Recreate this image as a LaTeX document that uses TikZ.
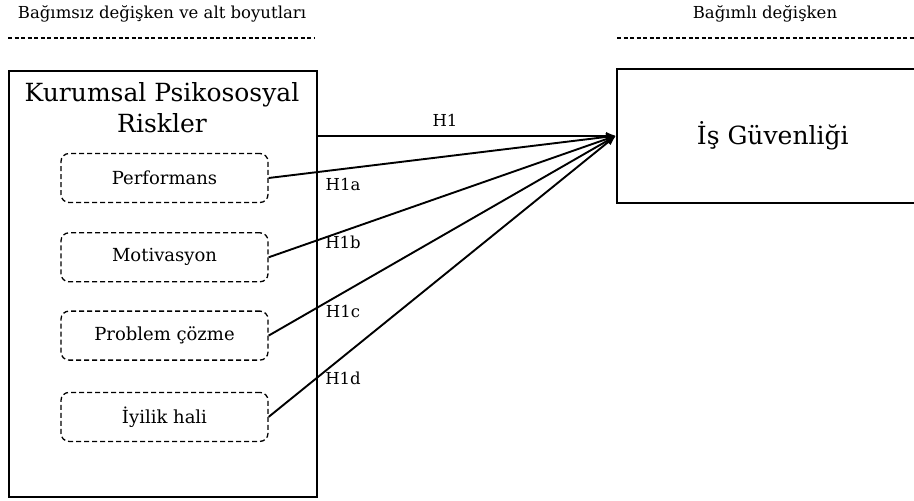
\documentclass[tikz,border=0pt]{standalone}
\usepackage{fontspec}
\setmainfont{DejaVu Serif}
\usepackage{tikz}
\usetikzlibrary{arrows,arrows.meta,positioning}
\tikzset{hdr/.style={font=\fontsize{16.5}{20}\selectfont}}
\tikzset{hline/.style={line width=1.3pt,dash pattern=on 4pt off 2.5pt}}
\tikzset{dim/.style={draw,line width=1.3pt,dash pattern=on 5pt off 3pt,rounded corners=8pt,minimum width=207pt,minimum height=49pt,font=\fontsize{18}{22}\selectfont}}
\tikzset{rel/.style={-{Latex[length=10pt,width=8pt]},line width=1.9pt}}
\tikzset{lbl/.style={font=\fontsize{16.5}{20}\selectfont}}

\begin{document}
\begin{tikzpicture}[x=1pt,y=-1pt]
  \useasboundingbox (0,0) rectangle (914,501);

  % headers
  \node[hdr] (hin) at (162,14) {Bağımsız değişken ve alt boyutları};
  \node[hdr] (hout) at (765,14) {Bağımlı değişken};
  \draw[hline] (8,38) -- (315,38);
  \draw[hline] (617,38) -- (914,38);

  % independent variable
  \node[draw,line width=1.5pt,minimum width=308pt,minimum height=426pt,anchor=north west] (risk) at (8,70) {};
  \node[font=\fontsize{25}{31}\selectfont,align=center] (riskt) at (162,108) {Kurumsal Psikososyal\\Riskler};
  \node[dim] (perf) at (164.5,178) {Performans};
  \node[dim,below=29pt of perf] (mot) {Motivasyon};
  \node[dim,below=28pt of mot] (prob) {Problem çözme};
  \node[dim,below=31pt of prob] (iyi) {İyilik hali};

  % dependent variable
  \node[draw,line width=1.5pt,minimum width=312pt,minimum height=134pt,anchor=north west,font=\fontsize{25}{31}\selectfont] (gv) at (616,68) {İş Güvenliği};

  % hypotheses
  \draw[rel] (risk.east |- gv.west) -- (gv.west);
  \draw[rel] (perf.east) -- (gv.west);
  \draw[rel] (mot.east) -- (gv.west);
  \draw[rel] (prob.east) -- (gv.west);
  \draw[rel] (iyi.east) -- (gv.west);

  \node[lbl] (l1) at (445,120) {H1};
  \node[lbl] (l1a) at (343,184) {H1a};
  \node[lbl] (l1b) at (343,242) {H1b};
  \node[lbl] (l1c) at (343,311) {H1c};
  \node[lbl] (l1d) at (343,378) {H1d};
\end{tikzpicture}
\end{document}
